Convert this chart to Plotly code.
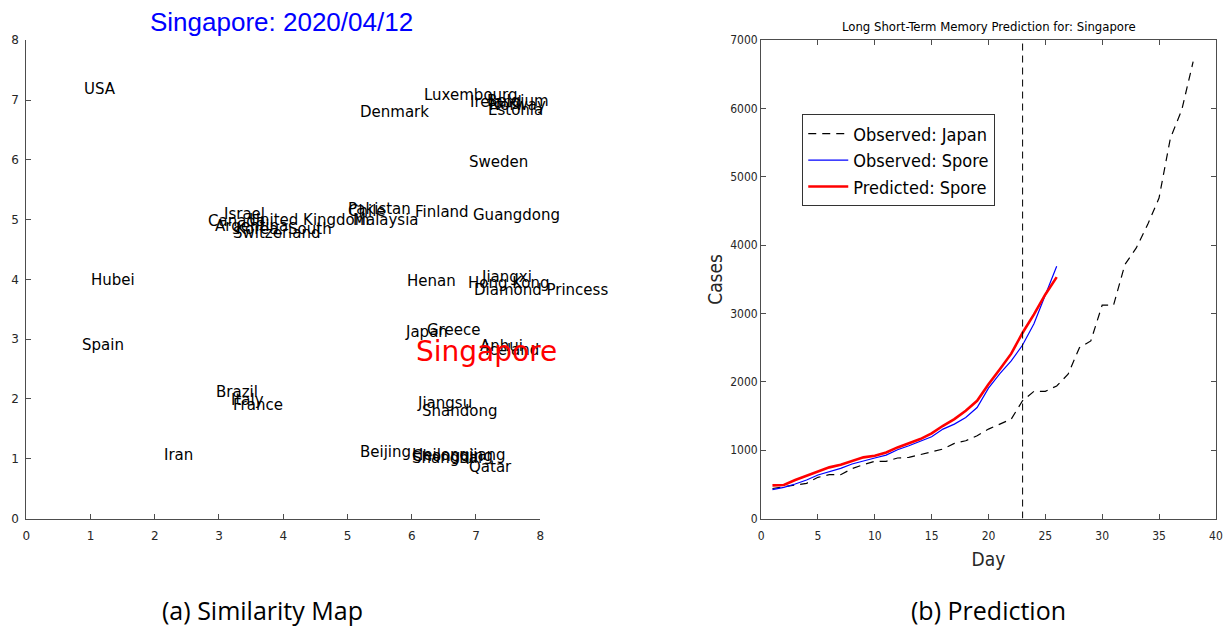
import plotly.graph_objects as go

# ---------------- data: similarity map ----------------
countries = ["USA", "Hubei", "Spain", "Iran", "Brazil", "Italy", "France",
             "Canada", "Argentina", "Israel", "United Kingdom", "Korea, South", "Switzerland",
             "Pakistan", "Chile", "Malaysia", "Finland",
             "Luxembourg", "Denmark", "Ireland", "Belgium", "Norway", "Estonia",
             "Sweden", "Guangdong", "Henan", "Hong Kong", "Jiangxi", "Diamond Princess",
             "Japan", "Greece", "Anhui", "Iceland",
             "Jiangsu", "Shandong", "Beijing", "Heilongjiang", "Chongqing", "Shanghai", "Qatar"]
sim_x = [0.875, 0.98, 0.84, 2.11, 2.92, 3.16, 3.19,
         2.80, 2.91, 3.05, 3.44, 3.23, 3.19,
         4.98, 4.97, 5.06, 6.02,
         6.16, 5.16, 6.88, 7.14, 7.17, 7.16,
         6.86, 6.92, 5.89, 6.84, 7.05, 6.94,
         5.86, 6.20, 7.03, 7.11,
         6.05, 6.13, 5.17, 5.97, 5.97, 5.98, 6.86]
sim_y = [7.18, 3.99, 2.90, 1.06, 2.11, 1.98, 1.90,
         4.97, 4.90, 5.10, 5.00, 4.85, 4.78,
         5.18, 5.15, 5.00, 5.12,
         7.08, 6.80, 6.96, 6.98, 6.91, 6.83,
         5.96, 5.07, 3.98, 3.94, 4.04, 3.83,
         3.12, 3.15, 2.89, 2.82,
         1.93, 1.80, 1.11, 1.06, 1.04, 1.02, 0.87]
target_name = "Singapore"
target_x = 6.03
target_y = 2.80
map_title = "Singapore: 2020/04/12"
map_ticks = [0, 1, 2, 3, 4, 5, 6, 7, 8]

# ---------------- data: prediction ----------------
japan_day = list(range(1, 39))
japan_obs = [440, 467, 496, 515, 603, 642, 642, 730, 788, 837,
             837, 886, 895, 934, 968, 1017, 1100, 1139, 1212, 1309,
             1382, 1455, 1725, 1862, 1862, 1941, 2112, 2501, 2599, 3124,
             3124, 3718, 3961, 4302, 4691, 5567, 5981, 6686]
spore_day = list(range(1, 27))
spore_obs = [423, 457, 506, 564, 637, 686, 735, 798, 847, 886,
             929, 1007, 1066, 1129, 1197, 1309, 1382, 1479, 1625, 1908,
             2121, 2307, 2540, 2850, 3260, 3693]
spore_pred = [485, 490, 564, 628, 691, 749, 788, 847, 895, 920,
              968, 1041, 1100, 1163, 1246, 1358, 1455, 1577, 1723, 1966,
              2185, 2413, 2720, 2988, 3280, 3533]
split_day = 23
pred_title = "Long Short-Term Memory Prediction for: Singapore"
caption_a = "(a) Similarity Map"
caption_b = "(b) Prediction"

W, H = 1228, 626
# the page is shown with an 8px body margin and then fitted to the window,
# so target screen positions are mapped back into figure coordinates
SX, SY, M = 1228 / 1244, 626 / 642, 8
def px(x):
    return (x / SX - M) / W
def py(y):
    return 1 - (y / SY - M) / H

AX = "#4d4d4d"
NARROW = "DejaVu Sans Condensed, Liberation Sans Narrow, Roboto, sans-serif"

fig = go.Figure()

# invisible trace to anchor left axes
fig.add_trace(go.Scatter(x=sim_x, y=sim_y, mode="markers", marker=dict(opacity=0),
                         showlegend=False, hoverinfo="skip", xaxis="x", yaxis="y"))

for name, xv, yv in zip(countries, sim_x, sim_y):
    fig.add_annotation(x=xv, y=yv, xref="x", yref="y", text=name, showarrow=False,
                       xanchor="left", yanchor="middle",
                       font=dict(family="DejaVu Sans", size=15, color="black"))
fig.add_annotation(x=target_x, y=target_y, xref="x", yref="y", text=target_name, showarrow=False,
                   xanchor="left", yanchor="middle",
                   font=dict(family="DejaVu Sans", size=28, color="red"))

# prediction traces
fig.add_trace(go.Scatter(x=japan_day, y=japan_obs, mode="lines", name="Observed: Japan",
                         line=dict(color="black", width=1.2, dash="8px,6px"),
                         xaxis="x2", yaxis="y2"))
fig.add_trace(go.Scatter(x=spore_day, y=spore_obs, mode="lines", name="Observed: Spore",
                         line=dict(color="blue", width=1.2), xaxis="x2", yaxis="y2"))
fig.add_trace(go.Scatter(x=spore_day, y=spore_pred, mode="lines", name="Predicted: Spore",
                         line=dict(color="red", width=2.6), xaxis="x2", yaxis="y2"))

fig.add_shape(type="line", x0=split_day, x1=split_day, y0=0, y1=7000, xref="x2", yref="y2",
              line=dict(color="black", width=1, dash="7px,5px"))

left_dom = [px(30), px(542)]
right_dom = [px(762), px(1215)]
ydom = [py(518), py(41)]

fig.update_layout(
    width=W, height=H, autosize=False,
    margin=dict(l=0, r=0, t=0, b=0),
    paper_bgcolor="white", plot_bgcolor="white",
    showlegend=True,
    legend=dict(x=px(803), y=py(115), xanchor="left", yanchor="top",
                bgcolor="white", bordercolor="#333333", borderwidth=1,
                font=dict(family=NARROW, size=18, color="black"),
                tracegroupgap=0, itemwidth=40),
    xaxis=dict(domain=left_dom, range=[0, 8], tickvals=map_ticks, showgrid=False, zeroline=False,
               showline=True, linecolor=AX, linewidth=1, ticks="inside", ticklen=5, tickcolor=AX,
               ticklabelstandoff=6,
               tickfont=dict(family="DejaVu Sans", size=12, color="#262626"), anchor="y"),
    yaxis=dict(domain=ydom, range=[0, 8], tickvals=map_ticks, showgrid=False, zeroline=False,
               showline=True, linecolor=AX, linewidth=1, ticks="inside", ticklen=5, tickcolor=AX,
               ticklabelstandoff=4,
               tickfont=dict(family="DejaVu Sans", size=12, color="#262626"), anchor="x"),
    xaxis2=dict(domain=right_dom, range=[0, 40], dtick=5, showgrid=False, zeroline=False,
                showline=True, mirror="ticks", linecolor=AX, linewidth=1, ticks="inside",
                ticklen=5, tickcolor=AX, anchor="y2", ticklabelstandoff=6,
                tickfont=dict(family=NARROW, size=12, color="#262626"),
                title=dict(text="Day", font=dict(family=NARROW, size=19, color="#262626"), standoff=10)),
    yaxis2=dict(domain=ydom, range=[0, 7000], dtick=1000, showgrid=False, zeroline=False,
                showline=True, mirror="ticks", linecolor=AX, linewidth=1, ticks="inside",
                ticklen=5, tickcolor=AX, anchor="x2", ticklabelstandoff=0,
                tickfont=dict(family=NARROW, size=12, color="#262626"),
                title=dict(text="Cases", font=dict(family=NARROW, size=19, color="#262626"), standoff=2)),
)

fig.add_annotation(x=px(284), y=py(23), xref="paper", yref="paper", text=map_title, showarrow=False,
                   xanchor="center", yanchor="middle",
                   font=dict(family="Liberation Sans", size=26, color="blue"))
fig.add_annotation(x=px(989), y=py(27), xref="paper", yref="paper", text=pred_title, showarrow=False,
                   xanchor="center", yanchor="middle",
                   font=dict(family=NARROW, size=13, color="black"))
fig.add_annotation(x=px(265), y=py(609), xref="paper", yref="paper", text=caption_a, showarrow=False,
                   xanchor="center", yanchor="middle",
                   font=dict(family="Open Sans", size=25, color="black"))
fig.add_annotation(x=px(989), y=py(609), xref="paper", yref="paper", text=caption_b, showarrow=False,
                   xanchor="center", yanchor="middle",
                   font=dict(family="Open Sans", size=25, color="black"))

fig.write_html("out.html")
